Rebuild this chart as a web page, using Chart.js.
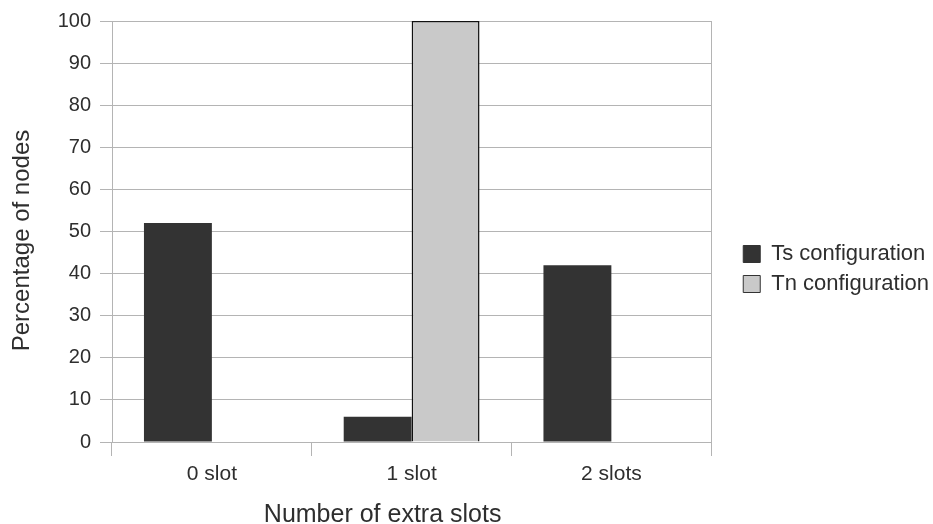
<!DOCTYPE html>
<html>
<head>
<meta charset="utf-8">
<script src="https://cdn.jsdelivr.net/npm/chart.js@4/dist/chart.umd.min.js"></script>
<style>
  html, body { margin: 0; padding: 0; background: #fff; }
  #wrap { width: 933px; height: 524px; }
</style>
</head>
<body>
<div id="wrap"><canvas id="c" width="933" height="524"></canvas></div>
<script>
// Share of nodes by number of extra slots, per configuration
const categories = ['0 slot', '1 slot', '2 slots'];
const tsValues = [52, 6, 42];
const tnValues = [0, 100, 0];
const seriesNames = ['Ts configuration', 'Tn configuration'];
const yTicks = [0, 10, 20, 30, 40, 50, 60, 70, 80, 90, 100];
const xTitle = 'Number of extra slots';
const yTitle = 'Percentage of nodes';

const FONT = '"Liberation Sans", Arial, sans-serif';
const GRID = '#b4b4b4';
const TEXT = '#2e2e2e';

// Right frame line, legend placement and the two axis titles
const framePlugin = {
  id: 'frameAndTitles',
  afterLayout(chart) {
    const lg = chart.legend;
    if (!lg) return;
    const dx = chart.chartArea.right + 24 - lg.left;
    lg.left += dx; lg.right += dx;
    lg.top -= 3; lg.bottom -= 3;
  },
  beforeDatasetsDraw(chart) {
    const { ctx, chartArea: a } = chart;
    ctx.save();
    ctx.strokeStyle = GRID;
    ctx.lineWidth = 1;
    ctx.beginPath();
    ctx.moveTo(Math.round(a.right) + 0.5, a.top);
    ctx.lineTo(Math.round(a.right) + 0.5, a.bottom);
    ctx.stroke();
    ctx.restore();
  },
  afterDraw(chart) {
    const { ctx, chartArea: a } = chart;
    ctx.save();
    ctx.fillStyle = TEXT;
    ctx.textAlign = 'center';
    ctx.textBaseline = 'alphabetic';
    ctx.font = '25px ' + FONT;
    ctx.fillText(xTitle, (a.left + a.right) / 2 - 29, chart.height - 2);
    ctx.translate(a.left - 83, (a.top + a.bottom) / 2 + 9);
    ctx.rotate(-Math.PI / 2);
    ctx.font = '24px ' + FONT;
    ctx.fillText(yTitle, 0, 0);
    ctx.restore();
  }
};

new Chart(document.getElementById('c'), {
  type: 'bar',
  data: {
    labels: categories,
    datasets: [
      {
        label: seriesNames[0],
        data: tsValues,
        backgroundColor: '#333333',
        borderColor: '#333333',
        borderWidth: 0,
        categoryPercentage: 0.68,
        barPercentage: 1.0
      },
      {
        label: seriesNames[1],
        data: tnValues,
        backgroundColor: '#c9c9c9',
        borderColor: '#111111',
        borderWidth: 1.5,
        categoryPercentage: 0.68,
        barPercentage: 1.0
      }
    ]
  },
  plugins: [framePlugin],
  options: {
    responsive: false,
    animation: false,
    layout: { padding: { top: 20, right: 18, bottom: 0, left: 0 } },
    plugins: {
      tooltip: { enabled: false },
      legend: {
        position: 'right',
        labels: {
          font: { family: FONT, size: 22 },
          color: TEXT,
          boxWidth: 17,
          boxHeight: 17,
          padding: 8,
          generateLabels(chart) {
            return chart.data.datasets.map((ds, i) => ({
              text: ds.label,
              fillStyle: ds.backgroundColor,
              strokeStyle: i === 0 ? ds.backgroundColor : '#333333',
              lineWidth: 1,
              fontColor: TEXT,
              datasetIndex: i,
              hidden: false
            }));
          }
        }
      }
    },
    scales: {
      x: {
        offset: true,
        afterFit(scale) { scale.height = 82; },
        grid: {
          offset: true,
          drawOnChartArea: false,
          drawTicks: true,
          tickLength: 14,
          color: GRID
        },
        border: { display: true, color: GRID },
        ticks: {
          font: { family: FONT, size: 21 },
          color: TEXT,
          padding: 6
        }
      },
      y: {
        min: 0,
        max: 100,
        afterFit(scale) { scale.width = 112; },
        afterBuildTicks(axis) { axis.ticks = yTicks.map(v => ({ value: v })); },
        grid: {
          color: GRID,
          tickLength: 12,
          drawTicks: true
        },
        border: { display: true, color: GRID },
        ticks: {
          font: { family: FONT, size: 20 },
          color: TEXT,
          padding: 9
        }
      }
    }
  }
});
</script>
</body>
</html>
